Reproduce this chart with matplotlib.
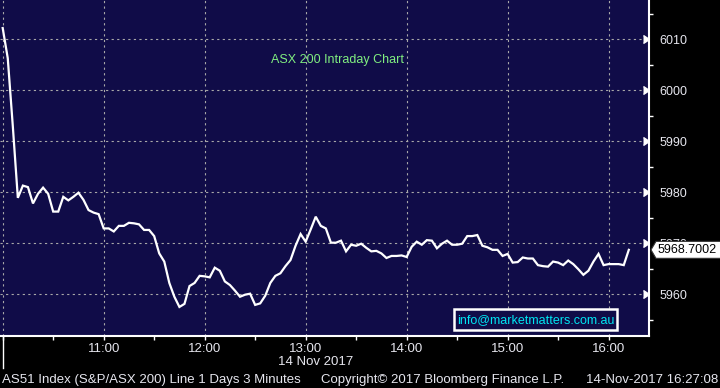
import matplotlib
matplotlib.use("Agg")
import matplotlib.pyplot as plt
import matplotlib.patches as mpatches
import matplotlib.transforms as mtransforms
import numpy as np

plt.rcParams['font.family'] = ['Liberation Sans', 'DejaVu Sans']

# ---- data ----
start_label = "10:00"
step_minutes = 3
values = [
    6012.2, 6006.3, 5993.0, 5978.9, 5981.3, 5981.0, 5977.8, 5979.7, 5980.9, 5979.7,
    5976.2, 5976.2, 5979.1, 5978.4, 5979.1, 5979.9, 5978.5, 5976.5, 5976.0, 5975.7,
    5972.9, 5972.9, 5972.3, 5973.4, 5973.4, 5974.0, 5973.9, 5973.7, 5972.6, 5972.6,
    5971.4, 5968.0, 5966.4, 5962.2, 5959.5, 5957.5, 5958.1, 5961.6, 5962.2, 5963.6,
    5963.5, 5963.3, 5965.2, 5964.6, 5962.5, 5961.8, 5960.7, 5959.5, 5959.9, 5960.1,
    5957.9, 5958.2, 5959.7, 5962.2, 5963.6, 5964.1, 5965.5, 5966.7, 5969.5, 5971.8,
    5970.3, 5972.7, 5975.2, 5973.4, 5972.9, 5970.1, 5970.1, 5970.5, 5968.4, 5969.7,
    5969.5, 5969.9, 5969.1, 5968.4, 5968.5, 5968.0, 5967.1, 5967.5, 5967.5, 5967.6,
    5967.3, 5969.3, 5970.3, 5969.7, 5970.6, 5970.5, 5969.0, 5969.9, 5970.5, 5969.7,
    5969.7, 5969.9, 5971.4, 5971.4, 5971.6, 5969.5, 5969.2, 5968.7, 5968.7, 5967.5,
    5967.9, 5966.2, 5966.3, 5967.2, 5967.0, 5967.0, 5965.7, 5965.5, 5965.4, 5966.4,
    5966.2, 5965.7, 5966.6, 5965.9, 5964.9, 5963.8, 5964.6, 5966.4, 5967.9, 5965.7,
    5965.9, 5965.9, 5965.9, 5965.7, 5968.7002,
]
hour_ticks_min = [0, 60, 120, 180, 240, 300, 360]
hour_labels = ["", "11:00", "12:00", "13:00", "14:00", "15:00", "16:00"]
y_ticks = [5960, 5970, 5980, 5990, 6000, 6010]
last_price_label = "5968.7002"
title_text = "ASX 200 Intraday Chart"
date_text = "14 Nov 2017"
footer_left = "AS51 Index (S&P/ASX 200) Line 1 Days 3 Minutes"
footer_mid = "Copyright\u00a9 2017 Bloomberg Finance L.P."
footer_right = "14-Nov-2017 16:27:08"
watermark = "info@marketmatters.com.au"

minutes = np.arange(len(values)) * step_minutes

# ---- style ----
NAVY = '#100c48'
FG = '#e6e6ee'
W, H = 720, 388

fig = plt.figure(figsize=(7.2, 3.88), dpi=100, facecolor='black')
ax = fig.add_axes([0, 52 / H, 649 / W, 336 / H])
ax.set_facecolor(NAVY)

ax.plot(minutes, values, color='white', lw=1.6, zorder=3, solid_joinstyle='miter')

ax.set_xlim(-1.6, 384)
ax.set_ylim(5951.8, 6017.7)

for s in ['left', 'top']:
    ax.spines[s].set_visible(False)
for s in ['right', 'bottom']:
    ax.spines[s].set_color('white')
    ax.spines[s].set_linewidth(1.5)

ax.yaxis.tick_right()
ax.set_yticks(y_ticks)
ax.set_yticklabels([str(v) for v in y_ticks])
ax.set_yticks(np.arange(5955, 6020, 10), minor=True)
ax.tick_params(axis='y', which='major', length=0, pad=7.5, labelsize=9, labelcolor=FG)
ax.tick_params(axis='y', which='minor', length=3, width=1, color='white', direction='out')

ax.set_xticks(hour_ticks_min)
ax.set_xticklabels(hour_labels)
ax.set_xticks(np.arange(30, 384, 60), minor=True)
ax.tick_params(axis='x', which='both', length=3, width=1, color='white', direction='out',
               pad=2, labelsize=9.5, labelcolor=FG)

ax.grid(True, which='major', color='#a8a8a8', linestyle=(0, (2, 3)), linewidth=0.8)

# caret markers at major y ticks
ax.plot(np.ones(len(y_ticks)), y_ticks, marker=5, ms=6, color='white', linestyle='none',
        transform=ax.get_yaxis_transform(), clip_on=False, zorder=5)

# title
ax.text(0.4176, 0.821, title_text, transform=ax.transAxes, color='#80ee80',
        fontsize=9, va='center', ha='left')

# watermark box
fig.add_artist(mpatches.Rectangle((454 / W, (H - 330) / H), (617 - 454) / W, 21 / H,
                                  transform=fig.transFigure, facecolor=NAVY,
                                  edgecolor='white', lw=1.8, zorder=4))
fig.text(535.5 / W, (H - 320) / H, watermark, color='#00e6f2', fontsize=9,
         ha='center', va='center', zorder=5)

# date separator line and date
fig.add_artist(plt.Line2D([2.7 / W, 2.7 / W], [(H - 336) / H, (H - 368) / H],
                          color='white', lw=1, transform=fig.transFigure))
fig.text(315.5 / W, (H - 362) / H, date_text, color=FG, fontsize=9.5, ha='center', va='center')

# footer
fig.text(2 / W, (H - 380) / H, footer_left, color=FG, fontsize=9.5, ha='left', va='center')
fig.text(320.7 / W, (H - 380) / H, footer_mid, color=FG, fontsize=9.5, ha='left', va='center')
fig.text(718 / W, (H - 380) / H, footer_right, color=FG, fontsize=9.5, ha='right', va='center')

# last price box
fig.canvas.draw()
px, py = ax.get_yaxis_transform().transform((1.0, values[-1]))
verts = [(px + 2, py), (px + 7, py + 8.5), (W + 5, py + 8.5), (W + 5, py - 8.5), (px + 7, py - 8.5)]
fig.add_artist(mpatches.Polygon(verts, closed=True, transform=mtransforms.IdentityTransform(),
                                facecolor='white', edgecolor='#333333', lw=0.8, zorder=6))
fig.text((px + 9) / W, py / H, last_price_label, color='black', fontsize=9,
         ha='left', va='center', zorder=7)

# the tick label hidden behind the last-price box only peeks out above it
clip = mtransforms.Bbox.from_extents(px, py + 8.5, W + 10, H + 10)
for lbl in ax.get_yticklabels():
    if lbl.get_text() == str(int(round(values[-1] / 10.0) * 10)):
        lbl.set_clip_box(mtransforms.TransformedBbox(clip, mtransforms.IdentityTransform()))
        lbl.set_clip_on(True)

fig.savefig('out.png', dpi=100, facecolor='black')
